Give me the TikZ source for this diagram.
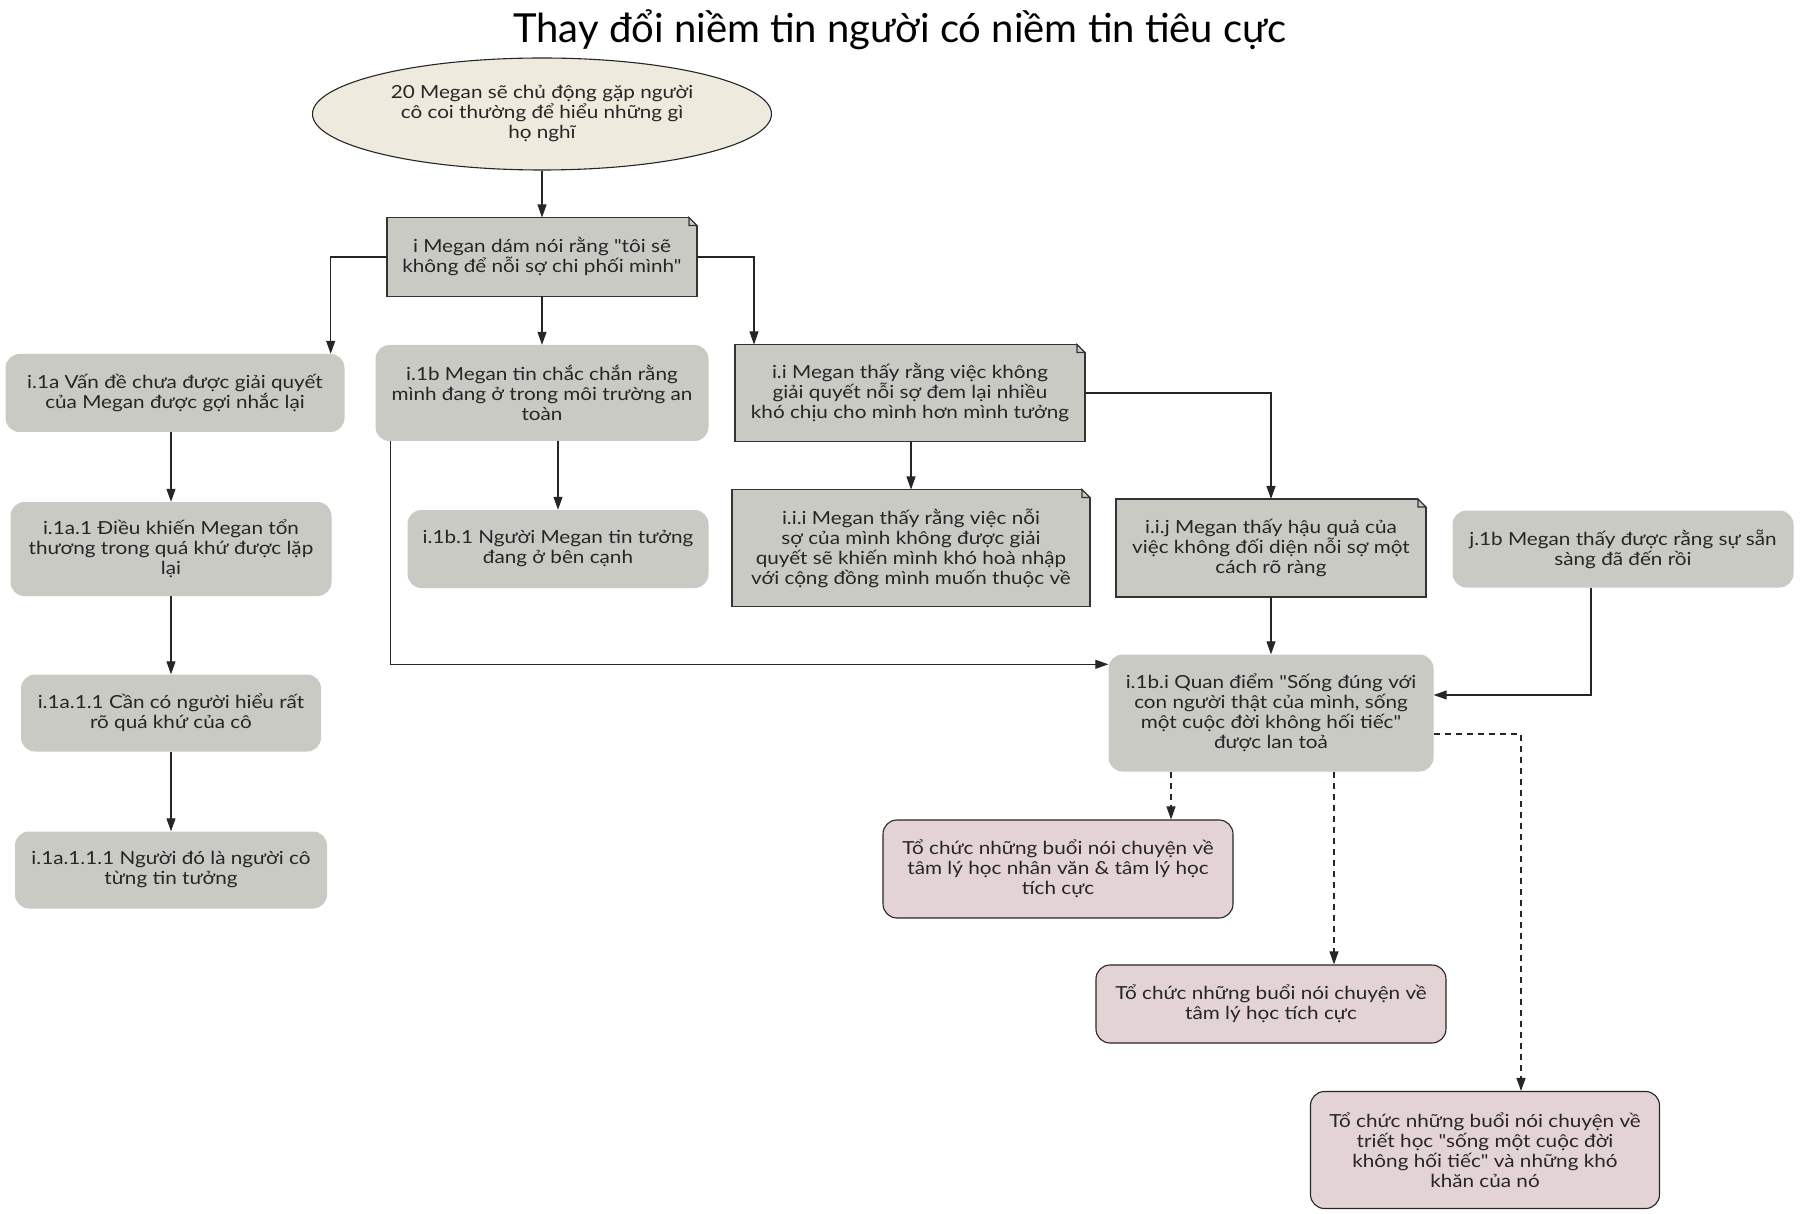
\documentclass[tikz,border=0pt]{standalone}
\usepackage{fontspec}
\setmainfont{Lato}[Ligatures=TeXOff]
\newfontfamily\boxfont{Lato}[FakeStretch=1.15, Ligatures=TeXOff]
\usetikzlibrary{arrows.meta,shapes.geometric,calc}
\definecolor{boxgray}{RGB}{200,202,195}
\definecolor{rootbeige}{RGB}{238,234,222}
\definecolor{actpink}{RGB}{228,211,212}
\tikzset{
  base/.style={align=center, inner sep=4pt, font=\boxfont\fontsize{18}{20}\selectfont, text=black!85},
  gbox/.style={base, rectangle, rounded corners=14pt, fill=boxgray},
  note/.style={base, rectangle, draw=black!80, line width=1.1pt, fill=boxgray, outer sep=0pt},
  pbox/.style={base, rectangle, rounded corners=14pt, draw=black!85, line width=1.1pt, fill=actpink},
  rootnode/.style={base, ellipse, draw=black!85, line width=1.1pt, fill=rootbeige, inner sep=0pt},
  link/.style={-{Triangle[length=13pt,width=9pt]}, line width=1.1pt, black!85},
  dlink/.style={link, dash pattern=on 6pt off 5pt},
}
\begin{document}
\begin{tikzpicture}[x=1pt,y=-1pt]
\useasboundingbox (0,0) rectangle (1800,1214);

\node (title) at (900,30) {\fontsize{40}{44}\selectfont Thay đổi niềm tin người có niềm tin tiêu cực};

% top
\node[rootnode, minimum width=459pt, minimum height=112pt] (root) at (542,114)
  {20 Megan sẽ chủ động gặp người\\cô coi thường để hiểu những gì\\họ nghĩ};
\node[note, minimum width=310pt, minimum height=79pt] (nI) at (542,257)
  {i Megan dám nói rằng "tôi sẽ\\không để nỗi sợ chi phối mình"};

% second row
\node[gbox, minimum width=339pt, minimum height=78pt] (nIa) at (175,393)
  {i.1a Vấn đề chưa được giải quyết\\của Megan được gợi nhắc lại};
\node[gbox, minimum width=333pt, minimum height=96pt] (nIb) at (542,393)
  {i.1b Megan tin chắc chắn rằng\\mình đang ở trong môi trường an\\toàn};
\node[note, minimum width=350pt, minimum height=97pt] (nII) at (910,393)
  {i.i Megan thấy rằng việc không\\giải quyết nỗi sợ đem lại nhiều\\khó chịu cho mình hơn mình tưởng};

% third row
\node[gbox, minimum width=321pt, minimum height=94pt] (nIa1) at (171,549)
  {i.1a.1 Điều khiến Megan tổn\\thương trong quá khứ được lặp\\lại};
\node[gbox, minimum width=301pt, minimum height=78pt] (nIb1) at (558,549)
  {i.1b.1 Người Megan tin tưởng\\đang ở bên cạnh};
\node[note, minimum width=358pt, minimum height=117pt] (nIIi) at (911,548)
  {i.i.i Megan thấy rằng việc nỗi\\sợ của mình không được giải\\quyết sẽ khiến mình khó hoà nhập\\với cộng đồng mình muốn thuộc về};
\node[note, minimum width=310pt, minimum height=98pt] (nIIj) at (1271,548)
  {i.i.j Megan thấy hậu quả của\\việc không đối diện nỗi sợ một\\cách rõ ràng};
\node[gbox, minimum width=341pt, minimum height=77pt] (nJb) at (1623,549)
  {j.1b Megan thấy được rằng sự sẵn\\sàng đã đến rồi};

% lower part
\node[gbox, minimum width=300pt, minimum height=77pt] (nIa11) at (171,713)
  {i.1a.1.1 Cần có người hiểu rất\\rõ quá khứ của cô};
\node[gbox, minimum width=325pt, minimum height=117pt] (nIbi) at (1271,713)
  {i.1b.i Quan điểm "Sống đúng với\\con người thật của mình, sống\\một cuộc đời không hối tiếc"\\được lan toả};
\node[gbox, minimum width=312pt, minimum height=77pt] (nIa111) at (171,870)
  {i.1a.1.1.1 Người đó là người cô\\từng tin tưởng};

% actions
\node[pbox, minimum width=350pt, minimum height=98pt] (nP1) at (1058,869)
  {Tổ chức những buổi nói chuyện về\\tâm lý học nhân văn \& tâm lý học\\tích cực};
\node[pbox, minimum width=350pt, minimum height=78pt] (nP2) at (1271,1004)
  {Tổ chức những buổi nói chuyện về\\tâm lý học tích cực};
\node[pbox, minimum width=349pt, minimum height=117pt] (nP3) at (1485,1150)
  {Tổ chức những buổi nói chuyện về\\triết học "sống một cuộc đời\\không hối tiếc" và những khó\\khăn của nó};

% folded corners of the notes
\foreach \n in {nI,nII,nIIi,nIIj} {
  \fill[white] ($(\n.north east)+(-9,-1)$) -- ($(\n.north east)+(1,-1)$) -- ($(\n.north east)+(1,9)$) -- cycle;
  \draw[line width=1.1pt, black!80] ($(\n.north east)+(-8,0)$) -- ($(\n.north east)+(0,8)$)
    -- ($(\n.north east)+(-8,8)$) -- cycle;
}

% connectors
\draw[link] (root) -- (nI);
\draw[link] (nI.west) -| ([xshift=-14pt]nIa.north east);
\draw[link] (nI) -- (nIb);
\draw[link] (nI.east) -| ([xshift=-156pt]nII.north);
\draw[link] (nIa.south -| nIa1.north) -- (nIa1.north);
\draw[link] (nIa1) -- (nIa11);
\draw[link] (nIa11) -- (nIa111);
\draw[link] (nIb.south -| nIb1.north) -- (nIb1.north);
\draw[link] ([xshift=15pt]nIb.south west) |- ([yshift=-10pt]nIbi.north west);
\draw[link] (nII.south -| nIIi.north) -- (nIIi.north);
\draw[link] (nII.east) -| (nIIj.north);
\draw[link] (nIIj) -- (nIbi);
\draw[link] ([xshift=-32pt]nJb.south) |- ([yshift=18pt]nIbi.east);
\draw[dlink] ([xshift=-100pt]nIbi.south) -- ([xshift=113pt]nP1.north);
\draw[dlink] ([xshift=63pt]nIbi.south) -- ([xshift=63pt]nP2.north);
\draw[dlink] ([yshift=-21pt]nIbi.east) -| ([xshift=36pt]nP3.north);

\end{tikzpicture}
\end{document}
